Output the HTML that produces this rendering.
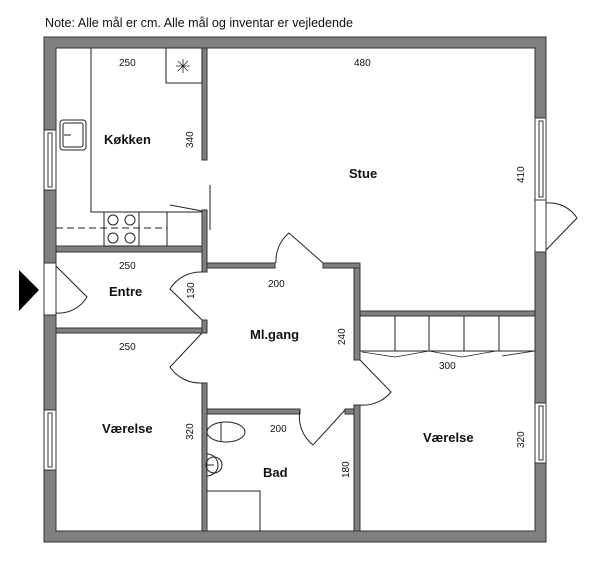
<!DOCTYPE html>
<html><head><meta charset="utf-8"><style>
html,body{margin:0;padding:0;background:#fff;width:600px;height:567px;overflow:hidden}
svg{display:block}
text{font-family:"Liberation Sans",sans-serif;fill:#111}
.b{font-weight:bold;font-size:13px}
.d{font-size:10px}
</style></head><body>
<svg width="600" height="567" viewBox="0 0 600 567">
<text x="45" y="27" font-size="12.5" textLength="308" lengthAdjust="spacingAndGlyphs">Note: Alle mål er cm. Alle mål og inventar er vejledende</text>
<g fill="#808080" stroke="#333" stroke-width="1">
<!-- outer walls -->
<path fill-rule="evenodd" d="M44,37 H546 V542 H44 Z M56,48 V531 H535 V48 Z"/>
<!-- kitchen right wall -->
<rect x="202" y="48" width="5" height="112"/>
<rect x="202" y="210" width="5" height="62"/>
<!-- kitchen bottom -->
<rect x="56" y="246" width="146" height="6"/>
<!-- hall top -->
<rect x="207" y="263" width="68" height="5"/>
<rect x="323" y="263" width="37" height="5"/>
<rect x="354" y="268" width="6" height="92"/>
<rect x="354" y="405" width="6" height="126"/>
<!-- stue bottom -->
<rect x="360" y="311" width="175" height="5"/>
<!-- entre bottom -->
<rect x="56" y="328" width="151" height="5"/>
<rect x="202" y="320" width="5" height="13"/>
<rect x="202" y="383" width="5" height="148"/>
<!-- bad top -->
<rect x="207" y="409" width="93" height="5"/>
<rect x="345" y="409" width="9" height="5"/>
</g>
<!-- windows/openings in outer walls -->
<g fill="#fff" stroke="#333" stroke-width="1">
<rect x="44" y="130" width="12" height="60"/>
<rect x="48" y="133" width="4" height="54"/>
<rect x="44" y="410" width="12" height="60"/>
<rect x="48" y="413" width="4" height="54"/>
<rect x="44" y="263" width="12" height="52"/>
<rect x="535" y="118" width="11" height="82"/>
<rect x="539" y="121" width="4" height="76"/>
<rect x="535" y="200" width="11" height="52"/>
<rect x="535" y="403" width="11" height="60"/>
<rect x="539" y="406" width="4" height="54"/>
</g>
<g fill="none" stroke="#222" stroke-width="1">
<!-- entry door -->
<path d="M56,266 L87,297 A33,33 0 0 1 56,313"/>
<!-- stue door -->
<path d="M546,250 L577,218 A33,33 0 0 0 546,203"/>
<!-- kitchen counter -->
<path d="M91,48 V212 H202"/>
<path d="M56,228 H167" stroke-dasharray="7,4"/>
<rect x="104" y="212" width="35" height="34"/>
<line x1="167" y1="212" x2="167" y2="246"/>
<circle cx="113" cy="220" r="5"/><circle cx="130" cy="220" r="5"/>
<circle cx="113" cy="238" r="5"/><circle cx="130" cy="238" r="5"/>
<rect x="166" y="48" width="36" height="35"/>
<path d="M176,66 H190 M183,59 V73 M178,61 L188,71 M188,61 L178,71" stroke-width="0.8"/>
<rect x="60" y="120" width="26" height="30" rx="3"/>
<rect x="63" y="123" width="20" height="24" rx="2"/>
<line x1="64" y1="135" x2="71" y2="135"/>
<!-- kitchen slide door -->
<line x1="210" y1="185" x2="210" y2="230"/>
<line x1="170" y1="205" x2="202" y2="211"/>
<!-- hall doors -->
<path d="M323,263 L289,233 A36,36 0 0 0 276,263"/>
<path d="M202,320 L170,289 A36,36 0 0 1 202,272"/>
<path d="M202,333 L170,367 A36,36 0 0 0 202,383"/>
<path d="M360,360 L391,392 A36,36 0 0 1 360,405"/>
<path d="M345,410 L313,445 A36,36 0 0 1 300,410"/>
<!-- closets -->
<path d="M360,351 H535 M395,316 V351 M429,316 V351 M464,316 V351 M499,316 V351"/>
<path d="M362,352 L395,357 L429,351 L462,357 L496,351 M502,356 L535,351" stroke-width="0.8"/>
<!-- bad -->
<ellipse cx="226" cy="432" rx="19" ry="10"/>
<line x1="221" y1="422" x2="221" y2="442"/>
<path d="M207,454 A11,11 0 1 1 207,476"/>
<circle cx="214" cy="465" r="8"/>
<line x1="207" y1="465" x2="214" y2="465"/>
<path d="M207,491 H260 V531"/>
</g>
<polygon points="19,270 39,290 19,311" fill="#000"/>
<!-- labels -->
<text class="b" x="104" y="144">Køkken</text>
<text class="b" x="349" y="178">Stue</text>
<text class="b" x="109" y="296">Entre</text>
<text class="b" x="250" y="339">Ml.gang</text>
<text class="b" x="102" y="433">Værelse</text>
<text class="b" x="263" y="477">Bad</text>
<text class="b" x="423" y="442">Værelse</text>
<g class="d">
<text x="119" y="66">250</text>
<text x="354" y="66">480</text>
<text x="119" y="269">250</text>
<text x="268" y="287">200</text>
<text x="119" y="350">250</text>
<text x="270" y="432">200</text>
<text x="439" y="369">300</text>
<text transform="translate(193,148) rotate(-90)">340</text>
<text transform="translate(524,183) rotate(-90)">410</text>
<text transform="translate(194,299) rotate(-90)">130</text>
<text transform="translate(345,345) rotate(-90)">240</text>
<text transform="translate(193,440) rotate(-90)">320</text>
<text transform="translate(349,478) rotate(-90)">180</text>
<text transform="translate(524,448) rotate(-90)">320</text>
</g>
</svg>
</body></html>
